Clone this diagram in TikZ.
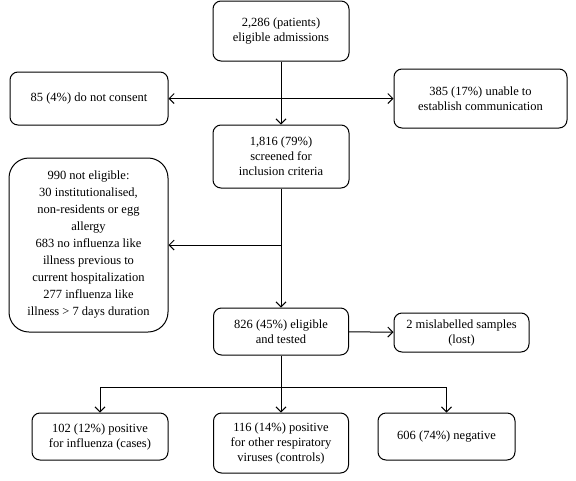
\documentclass[tikz,border=0pt]{standalone}
\usepackage{fontspec}
\setmainfont{Liberation Serif}
\usepackage{tikz}
\usetikzlibrary{arrows.meta, positioning}

\begin{document}
\begin{tikzpicture}[x=1pt, y=-1pt,
    box/.style = {draw, line width=1pt, rounded corners=8pt, align=center,
                  inner sep=0pt, font=\fontsize{12.5}{15}\selectfont},
    flow/.style = {line width=1pt, -{Straight Barb[length=5pt,width=10pt]}},
    both/.style = {line width=1pt,
                   {Straight Barb[length=5pt,width=10pt]}-{Straight Barb[length=5pt,width=10pt]}}]
    \useasboundingbox (0,0) rectangle (576,480);

    \node (adm) [box, minimum width=136pt, minimum height=60pt] at (281,31)
        {2,286 (patients)\\eligible admissions};
    \node (cons) [box, minimum width=158pt, minimum height=53pt] at (89,98.5)
        {85 (4\%) do not consent};
    \node (comm) [box, minimum width=173pt, minimum height=59pt] at (480.5,98.5)
        {385 (17\%) unable to\\establish communication};
    \node (scr) [box, minimum width=136pt, minimum height=63pt] at (281,156.5)
        {1,816 (79\%)\\screened for\\inclusion criteria};
    \node (nel) [box, rounded corners=20pt, minimum width=159pt, minimum height=174pt,
        font=\fontsize{12.5}{17}\selectfont] at (88.5,245)
        {990 not eligible:\\30 institutionalised,\\non-residents or egg\\allergy\\683 no influenza like\\illness previous to\\current hospitalization\\277 influenza like\\illness > 7 days duration};
    \node (test) [box, minimum width=135pt, minimum height=47pt] at (281,331.5)
        {826 (45\%) eligible\\and tested};
    \node (lost) [box, minimum width=135pt, minimum height=39pt] at (461.5,332.5)
        {2 mislabelled samples\\(lost)};
    \node (flu) [box, minimum width=136pt, minimum height=47pt] at (100,436.5)
        {102 (12\%) positive\\for influenza (cases)};
    \node (oth) [box, minimum width=135pt, minimum height=60pt] at (281,443)
        {116 (14\%) positive\\for other respiratory\\viruses (controls)};
    \node (neg) [box, minimum width=137pt, minimum height=47pt] at (446.5,436.5)
        {606 (74\%) negative};
    \coordinate (split) at (281,387);

\path [flow]
    (adm) edge (scr)
    (scr) edge (test)
    (scr |- nel) edge (nel)
    (test) edge (lost)
    (split) edge (oth);
\draw [both] (cons) -- (comm);
\draw [line width=1pt] (test) -- (split);
\draw [flow] (split) -| (flu);
\draw [flow] (split) -| (neg);

\end{tikzpicture}
\end{document}
